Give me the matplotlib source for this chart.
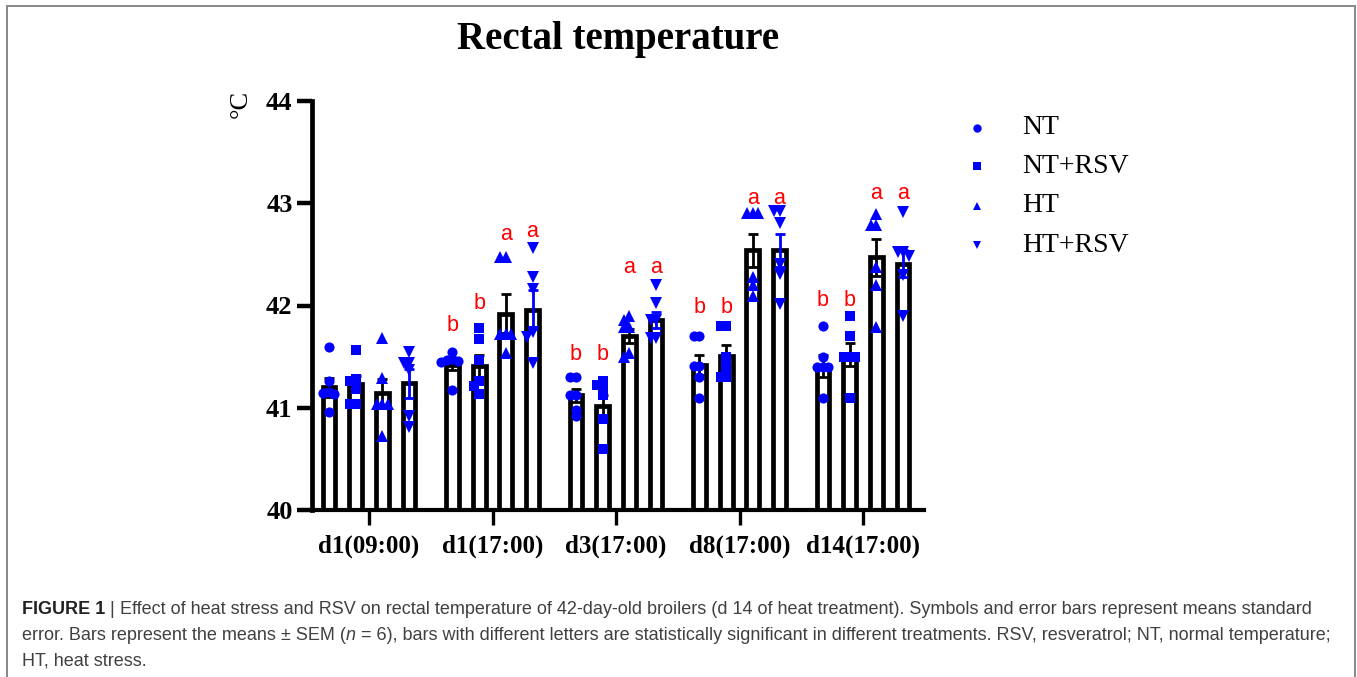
import numpy as np
import matplotlib
matplotlib.use("Agg")
import matplotlib.pyplot as plt
from matplotlib.lines import Line2D

# ---------------- data ----------------
timepoints = ["d1(09:00)", "d1(17:00)", "d3(17:00)", "d8(17:00)", "d14(17:00)"]
treatments = ["NT", "NT+RSV", "HT", "HT+RSV"]

pts_NT = [
    [41.59, 41.26, 41.15, 41.14, 41.13, 40.96],
    [41.55, 41.48, 41.47, 41.46, 41.45, 41.17],
    [41.30, 41.30, 41.12, 41.12, 40.98, 40.92],
    [41.70, 41.70, 41.41, 41.41, 41.30, 41.10],
    [41.80, 41.50, 41.40, 41.40, 41.40, 41.10],
]
pts_NT_RSV = [
    [41.56, 41.28, 41.26, 41.18, 41.04, 41.04],
    [41.78, 41.67, 41.47, 41.26, 41.21, 41.13],
    [41.26, 41.22, 41.20, 41.12, 40.89, 40.60],
    [41.80, 41.80, 41.50, 41.40, 41.30, 41.30],
    [41.90, 41.70, 41.50, 41.50, 41.50, 41.10],
]
pts_HT = [
    [41.68, 41.29, 41.04, 41.04, 41.04, 40.72],
    [42.47, 42.47, 41.72, 41.72, 41.72, 41.54],
    [41.90, 41.86, 41.79, 41.79, 41.54, 41.50],
    [42.90, 42.90, 42.90, 42.28, 42.20, 42.09],
    [42.89, 42.79, 42.79, 42.38, 42.20, 41.79],
]
pts_HT_RSV = [
    [41.55, 41.44, 41.44, 41.37, 40.92, 40.81],
    [42.56, 42.28, 42.16, 41.74, 41.69, 41.44],
    [42.20, 42.02, 41.86, 41.86, 41.68, 41.68],
    [42.92, 42.92, 42.81, 42.41, 42.31, 42.01],
    [42.91, 42.52, 42.52, 42.48, 42.30, 41.90],
]

mean_NT = [41.20, 41.42, 41.12, 41.42, 41.41]
mean_NT_RSV = [41.23, 41.41, 41.02, 41.51, 41.52]
mean_HT = [41.14, 41.92, 41.70, 42.54, 42.47]
mean_HT_RSV = [41.24, 41.96, 41.86, 42.54, 42.41]

sem_NT = [0.09, 0.05, 0.06, 0.10, 0.11]
sem_NT_RSV = [0.08, 0.11, 0.10, 0.10, 0.11]
sem_HT = [0.14, 0.19, 0.07, 0.16, 0.18]
sem_HT_RSV = [0.14, 0.19, 0.08, 0.16, 0.13]

letters = [
    ["", "", "", ""],
    ["b", "b", "a", "a"],
    ["b", "b", "a", "a"],
    ["b", "b", "a", "a"],
    ["b", "b", "a", "a"],
]
letter_y = [
    [0, 0, 0, 0],
    [41.80, 42.02, 42.69, 42.72],
    [41.52, 41.52, 42.37, 42.37],
    [41.98, 41.98, 43.05, 43.05],
    [42.05, 42.05, 43.10, 43.10],
]

y_ticks = [40, 41, 42, 43, 44]

# ---------------- figure ----------------
W, H = 1357, 677
fig = plt.figure(figsize=(W / 100, H / 100), dpi=100)
fig.patch.set_facecolor("white")

def fx(px):
    return px / W

def fy(py):
    return 1 - py / H

ax_left, ax_right, ax_top, ax_bot = 312, 924, 101, 510
ax = fig.add_axes([fx(ax_left), fy(ax_bot), fx(ax_right - ax_left), (ax_bot - ax_top) / H])

group_px = 123.5
x0_px = 369
ax.set_xlim(-(x0_px - ax_left) / group_px, (ax_right - x0_px) / group_px)
ax.set_ylim(40, 44)

blue = "#0000ff"
serif = ["Liberation Serif", "DejaVu Serif"]
sans = ["Liberation Sans", "DejaVu Sans"]

offsets = np.array([-1.5, -0.5, 0.5, 1.5]) * 0.216
bar_w = 0.105
markers = ["o", "s", "^", "v"]
msizes = [7.3, 6.8, 8.2, 8.2]
all_pts = [pts_NT, pts_NT_RSV, pts_HT, pts_HT_RSV]
all_means = [mean_NT, mean_NT_RSV, mean_HT, mean_HT_RSV]
all_sems = [sem_NT, sem_NT_RSV, sem_HT, sem_HT_RSV]

ypx_per_unit = (ax_bot - ax_top) / 4.0

def swarm(vals, step=5.5, r=5.5):
    vals = np.asarray(vals, float)
    order = np.argsort(-vals)
    placed = []
    offs = np.zeros(len(vals))
    for i in order:
        yv = vals[i] * ypx_per_unit
        cands = [0]
        for n in range(1, 8):
            cands += [-n * step, n * step]
        for c in cands:
            ok = True
            for (px, py) in placed:
                if np.hypot(px - c, py - yv) < r - 1e-9:
                    ok = False
                    break
            if ok:
                offs[i] = c
                placed.append((c, yv))
                break
    return offs / group_px

gx = np.arange(len(timepoints))
for t in range(4):
    xs = gx + offsets[t]
    ax.bar(xs, np.array(all_means[t]) - 40, bottom=40, width=bar_w,
           facecolor="white", edgecolor="black", linewidth=3.4, zorder=2)
    ecol = blue if t == 3 else "black"
    ax.errorbar(xs, all_means[t], yerr=all_sems[t], fmt="none", ecolor=ecol,
                elinewidth=2.0, capsize=3.5, capthick=2.0, zorder=5 if t == 3 else 3)
    for g in range(len(timepoints)):
        vals = all_pts[t][g]
        off = swarm(vals)
        ax.plot(xs[g] + off, vals, linestyle="none", marker=markers[t], markersize=msizes[t],
                color=blue, markeredgewidth=0, zorder=4)
        if letters[g][t]:
            ax.text(xs[g], letter_y[g][t], letters[g][t], color="#ff0000", fontsize=15.5,
                    family=sans, ha="center", va="center", zorder=6)

for s in ["top", "right"]:
    ax.spines[s].set_visible(False)
ax.spines["left"].set_linewidth(3.4)
ax.spines["bottom"].set_linewidth(3.0)
ax.set_yticks(y_ticks)
ax.set_yticklabels([str(v) for v in y_ticks], fontsize=19, fontweight="bold", family=serif)
ax.set_xticks(gx)
ax.set_xticklabels(timepoints, fontsize=18, fontweight="bold", family=serif)
ax.tick_params(axis="y", length=11, width=3.2, direction="out", pad=3)
ax.tick_params(axis="x", length=11, width=2.4, direction="out", pad=7)
ax.set_facecolor("none")

# y label
fig.text(fx(241), fy(104), "°C", rotation=90, fontsize=19, family=serif,
         ha="center", va="center")

# title
fig.text(fx(618), fy(40), "Rectal temperature", fontsize=28, fontweight="bold",
         family=serif, ha="center", va="center")

# legend
leg_rows = [128, 166, 206, 245]
for t in range(4):
    fig.add_artist(Line2D([fx(977)], [fy(leg_rows[t])], transform=fig.transFigure,
                          marker=markers[t], markersize=6, color=blue,
                          markeredgewidth=0, linestyle="none"))
    fig.text(fx(1022), fy(leg_rows[t]), treatments[t], fontsize=20, family=serif,
             ha="left", va="center")

# frame
fcol = "#888888"
fig.add_artist(Line2D([fx(7), fx(7)], [fy(6), -0.1], transform=fig.transFigure, color=fcol, lw=1.4))
fig.add_artist(Line2D([fx(7), fx(1355)], [fy(6), fy(6)], transform=fig.transFigure, color=fcol, lw=1.4))
fig.add_artist(Line2D([fx(1355), fx(1355)], [fy(6), -0.1], transform=fig.transFigure, color=fcol, lw=1.4))

# caption
renderer = fig.canvas.get_renderer()
cap_col = "#404040"
line1 = [("FIGURE 1", dict(fontweight="bold", color="#222222")),
         (" | ", dict(color=cap_col)),
         ("Effect of heat stress and RSV on rectal temperature of 42-day-old broilers (d 14 of heat treatment). "
          "Symbols and error bars represent means standard", dict(color=cap_col))]
line2 = [("error. Bars represent the means \u00b1 SEM (", dict(color=cap_col)),
         ("n", dict(color=cap_col, style="italic")),
         (" = 6), bars with different letters are statistically significant in different treatments. "
          "RSV, resveratrol; NT, normal temperature;", dict(color=cap_col))]
line3 = [("HT, heat stress.", dict(color=cap_col))]

def draw_line(segs, x0, y, fs, draw=True):
    x = x0
    texts = []
    for s, kw in segs:
        tt = fig.text(fx(x), fy(y), s, fontsize=fs, family=sans, ha="left", va="center", **kw)
        bb = tt.get_window_extent(renderer)
        x = bb.x1
        texts.append(tt)
    if not draw:
        for tt in texts:
            tt.remove()
    return x

base_fs = 12
w = draw_line(line1, 22, 609, base_fs, draw=False) - 22
cap_fs = base_fs * (1296 / w)
draw_line(line1, 22, 609, cap_fs)
draw_line(line2, 22, 635, cap_fs)
draw_line(line3, 22, 661, cap_fs)

fig.savefig("out.png", dpi=100)
